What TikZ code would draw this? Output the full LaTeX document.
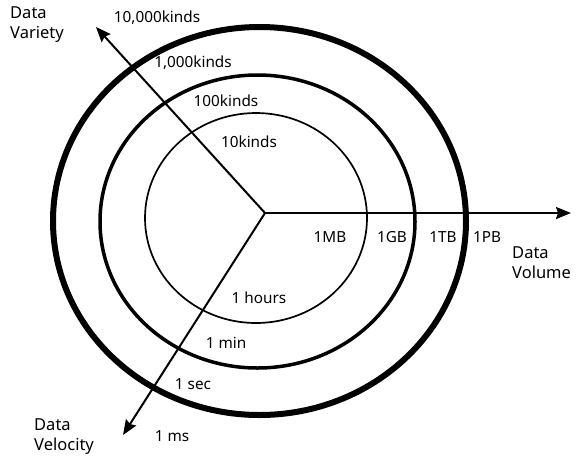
\documentclass[tikz,border=0pt]{standalone}
\usepackage{fontspec}
\setmainfont{Noto Sans}
\usetikzlibrary{arrows.meta}
\begin{document}
\begin{tikzpicture}[x=1pt,y=-1pt,
  axis/.style={line width=2pt,-{Stealth[length=15pt,width=12pt,inset=2pt]}},
  lbl/.style={font=\fontsize{15.3}{18}\selectfont,inner sep=0pt},
  ttl/.style={font=\fontsize{16.5}{20}\selectfont,inner sep=0pt,align=left,anchor=west}]
\useasboundingbox (0,0) rectangle (583,459);
% rings
\draw[line width=1.7pt] (256,218) ellipse [x radius=111, y radius=105];
\draw[line width=3.5pt] (257.5,221.5) ellipse [x radius=157.5, y radius=146.5];
\draw[line width=6pt] (259.5,221) ellipse [x radius=206.5, y radius=194];
% axes
\coordinate (O) at (265,213);
\coordinate (VolEnd) at (571,213);
\coordinate (VarEnd) at (96,27);
\coordinate (VelEnd) at (123,435);
\draw[axis] (O) -- (VolEnd);
\draw[axis] (O) -- (VarEnd);
\draw[axis] (O) -- (VelEnd);
% titles
\node[ttl] (tvar) at (10,25) {Data\\Variety};
\node[ttl] (tvol) at (512,263) {Data\\Volume};
\node[ttl] (tvel) at (34,437) {Data\\Velocity};
% variety labels
\node[lbl] (k4) at (157,18) {10,000kinds};
\node[lbl] (k3) at (193,63) {1,000kinds};
\node[lbl] (k2) at (226,101) {100kinds};
\node[lbl] (k1) at (249,142) {10kinds};
% volume labels
\node[lbl] (v1) at (330,237) {1MB};
\node[lbl] (v2) at (392,237) {1GB};
\node[lbl] (v3) at (443,237) {1TB};
\node[lbl] (v4) at (487,237) {1PB};
% velocity labels
\node[lbl] (s1) at (259,298) {1 hours};
\node[lbl] (s2) at (226,343) {1 min};
\node[lbl] (s3) at (193,384) {1 sec};
\node[lbl] (s4) at (172,436) {1 ms};
\end{tikzpicture}
\end{document}
